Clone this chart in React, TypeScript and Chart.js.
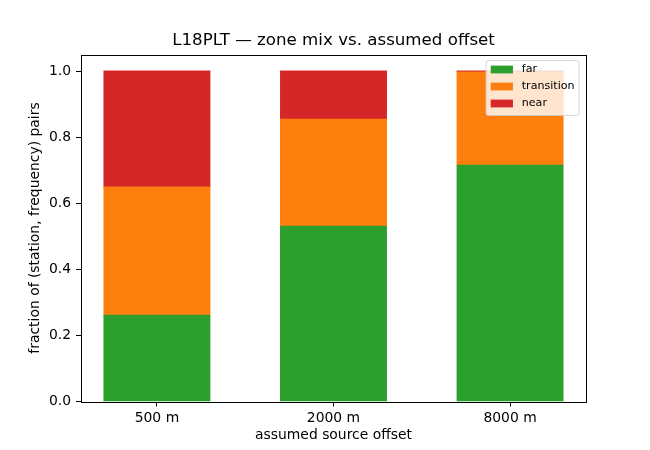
import React, { useEffect, useRef } from "react";
import { Chart, registerables } from "chart.js";

Chart.register(...registerables);

// Assumed source offsets (one bar each)
const offsets = ["500 m", "2000 m", "8000 m"];

// Fraction of (station, frequency) pairs in each zone
const farFrac = [0.261, 0.530, 0.715];
const transitionFrac = [0.388, 0.324, 0.282];
const nearFrac = [0.351, 0.146, 0.003];

const yTickValues = [0, 0.2, 0.4, 0.6, 0.8, 1.0];

const FONT = "'DejaVu Sans', 'Liberation Sans', sans-serif";

const toPoints = (vals: number[]) => vals.map((y, i) => ({ x: i, y }));

// Frame around the plotting area, drawn over the bars
const framePlugin = {
  id: "frame",
  afterDatasetsDraw(chart: any) {
    const { ctx, chartArea: a } = chart;
    ctx.save();
    ctx.strokeStyle = "#000";
    ctx.lineWidth = 1;
    ctx.strokeRect(Math.round(a.left) + 0.5, Math.round(a.top) + 0.5, Math.round(a.right - a.left), Math.round(a.bottom - a.top));
    ctx.restore();
  },
};

// Boxed legend in the upper-right corner of the plotting area
const cornerLegendPlugin = {
  id: "cornerLegend",
  afterDraw(chart: any) {
    const { ctx, chartArea: a } = chart;
    const fs = 11.1;
    ctx.save();
    ctx.font = `${fs}px ${FONT}`;
    const items = chart.data.datasets.map((d: any) => ({ label: d.label, color: d.backgroundColor }));
    const textW = Math.max(...items.map((it: any) => ctx.measureText(it.label).width));
    const padL = 4.7;
    const patchW = 22.2;
    const gap = 8.8;
    const padR = 4.4;
    const rowH = 17;
    const boxW = padL + patchW + gap + textW + padR;
    const boxH = 55;
    const right = a.right - 7;
    const left = right - boxW;
    const top = a.top + 6;
    const r = 2.5;
    ctx.beginPath();
    ctx.moveTo(left + r, top);
    ctx.lineTo(left + boxW - r, top);
    ctx.quadraticCurveTo(left + boxW, top, left + boxW, top + r);
    ctx.lineTo(left + boxW, top + boxH - r);
    ctx.quadraticCurveTo(left + boxW, top + boxH, left + boxW - r, top + boxH);
    ctx.lineTo(left + r, top + boxH);
    ctx.quadraticCurveTo(left, top + boxH, left, top + boxH - r);
    ctx.lineTo(left, top + r);
    ctx.quadraticCurveTo(left, top, left + r, top);
    ctx.closePath();
    ctx.fillStyle = "rgba(255,255,255,0.8)";
    ctx.fill();
    ctx.strokeStyle = "rgba(204,204,204,0.8)";
    ctx.lineWidth = 1;
    ctx.stroke();
    items.forEach((it: any, i: number) => {
      const cy = top + 9 + i * rowH;
      ctx.fillStyle = it.color;
      ctx.fillRect(left + padL, cy - 3.9, patchW, 7.8);
      ctx.fillStyle = "#000";
      ctx.textBaseline = "middle";
      ctx.textAlign = "left";
      ctx.fillText(it.label, left + padL + patchW + gap, cy);
    });
    ctx.restore();
  },
};

export default function App() {
  const canvasRef = useRef<HTMLCanvasElement | null>(null);

  useEffect(() => {
    document.body.style.margin = "0";
    const canvas = canvasRef.current;
    if (!canvas) return;
    const chart = new Chart(canvas, {
      type: "bar",
      data: {
        datasets: [
          { label: "far", data: toPoints(farFrac), backgroundColor: "#2ca02c" },
          { label: "transition", data: toPoints(transitionFrac), backgroundColor: "#ff7f0e" },
          { label: "near", data: toPoints(nearFrac), backgroundColor: "#d62728" },
        ],
      },
      options: {
        responsive: false,
        animation: false,
        devicePixelRatio: 1,
        layout: { padding: { left: 0, top: 0, right: 64, bottom: 0 } },
        datasets: {
          bar: { barPercentage: 0.6, categoryPercentage: 1.0, borderWidth: 0, inflateAmount: 0.5 },
        },
        plugins: {
          legend: { display: false },
          tooltip: { enabled: false },
          title: {
            display: true,
            fullSize: false,
            text: "L18PLT — zone mix vs. assumed offset",
            color: "#000",
            font: { family: FONT, size: 16.67, weight: "normal" },
            padding: { top: 31, bottom: 3.5 },
          },
        },
        scales: {
          x: {
            type: "linear",
            stacked: true,
            offset: false,
            min: -0.43,
            max: 2.43,
            afterBuildTicks: (scale: any) => {
              scale.ticks = offsets.map((_, i) => ({ value: i }));
            },
            afterFit: (scale: any) => {
              scale.height = 48.5;
            },
            ticks: {
              color: "#000",
              font: { family: FONT, size: 13.9 },
              padding: 4,
              maxRotation: 0,
              autoSkip: false,
              callback: (v: any) => offsets[Math.round(Number(v))] ?? "",
            },
            grid: {
              display: true,
              offset: false,
              drawOnChartArea: false,
              drawTicks: true,
              tickLength: 5,
              color: "#000",
            },
            border: { display: false },
            title: {
              display: true,
              text: "assumed source offset",
              color: "#000",
              font: { family: FONT, size: 13.9 },
              padding: { top: 0, bottom: 6 },
            },
          },
          y: {
            type: "linear",
            stacked: true,
            min: 0,
            max: 1.05,
            afterBuildTicks: (scale: any) => {
              scale.ticks = yTickValues.map((v) => ({ value: v }));
            },
            afterFit: (scale: any) => {
              scale.width = 81;
            },
            ticks: {
              color: "#000",
              font: { family: FONT, size: 13.9 },
              padding: 5,
              callback: (v: any) => Number(v).toFixed(1),
            },
            grid: {
              display: true,
              drawOnChartArea: false,
              drawTicks: true,
              tickLength: 5,
              color: "#000",
            },
            border: { display: false },
            title: {
              display: true,
              text: "fraction of (station, frequency) pairs",
              color: "#000",
              font: { family: FONT, size: 13.9 },
              padding: { top: 27.5, bottom: 0 },
            },
          },
        },
      },
      plugins: [framePlugin, cornerLegendPlugin],
    } as any);
    return () => chart.destroy();
  }, []);

  return (
    <div style={{ width: 650, height: 450, background: "#fff" }}>
      <canvas ref={canvasRef} width={650} height={450} />
    </div>
  );
}
